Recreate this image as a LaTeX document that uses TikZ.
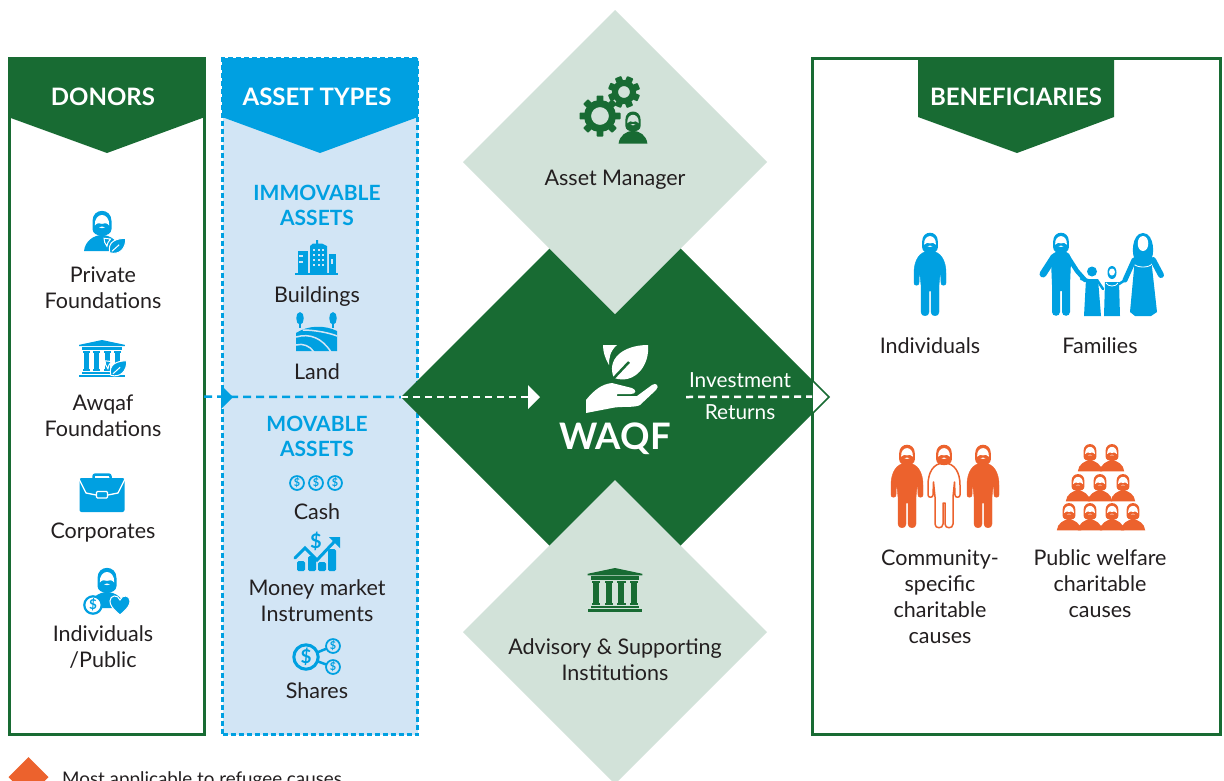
\documentclass[tikz,border=0pt]{standalone}
\usepackage{fontspec}
\setmainfont{Lato}
\usetikzlibrary{shapes.geometric}
\definecolor{dgreen}{HTML}{186B33}
\definecolor{lgreen}{HTML}{D2E2D9}
\definecolor{sky}{HTML}{00A0E1}
\definecolor{lsky}{HTML}{D2E5F5}
\definecolor{orng}{HTML}{EC622D}
\definecolor{ink}{HTML}{231F20}
\newcommand\Head[2]{%
  \fill[#1] (-9.5,-3) .. controls (-9.5,-16.5) and (9.5,-16.5) .. (9.5,-3) -- (9.5,5) .. controls (9.5,14) and (-9.5,14) .. (-9.5,5) -- cycle;
  \fill[#2] (-7.2,1.5) .. controls (-7.8,-12.5) and (7.8,-12.5) .. (7.2,1.5) .. controls (5,-1.5) and (2.5,-1) .. (0,-.2) .. controls (-2.5,-1) and (-5,-1.5) .. (-7.2,1.5) -- cycle;
  \fill[#2] (-3,3.4) .. controls (-1,2.2) and (1,2.2) .. (3,3.4) .. controls (1,4.4) and (-1,4.4) .. (-3,3.4) -- cycle;
}
% bust: head centre at origin
\newcommand\Bust[5]{\begin{scope}[shift={(#1,#2)},scale=#3]
  \fill[#4] (-18,27) .. controls (-17,17) and (-8,11) .. (0,11) .. controls (8,11) and (17,17) .. (18,27) -- cycle;
  \Head{#4}{#5}
\end{scope}}
% standing person: x, top y, stroke, fill, line width, face colour
\newcommand\Person[6]{\begin{scope}[shift={(#1,#2)}]
  \path[draw=#3,fill=#4,line width=#5,line join=round] (0,18) .. controls (-11,18) and (-16,28) .. (-16,40) -- (-16,50) .. controls (-16,53) and (-11,53) .. (-11,50) -- (-10.5,37) -- (-9,52) -- (-9,79) .. controls (-9,84) and (-1,84) .. (-1,79) -- (-1,58) -- (1,58) -- (1,79) .. controls (1,84) and (9,84) .. (9,79) -- (9,52) -- (10.5,37) -- (11,50) .. controls (11,53) and (16,53) .. (16,50) -- (16,40) .. controls (16,28) and (11,18) .. (0,18) -- cycle;
  \begin{scope}[shift={(0,10.5)},scale=.82]\Head{#3}{#6}\end{scope}
\end{scope}}
\newcommand\Coin[5]{%
  \pgfmathsetmacro\coinfs{#3*1.35}%
  \draw[#4,fill=#5,line width=#3*.22pt] (#1,#2) circle (#3*.87);
  \node[inner sep=0,text=#4,font=\fontsize{\coinfs}{\coinfs}\selectfont\bfseries] (coin-#1-#2) at (#1,#2) {\$};
}
% gear: x, y, ring radius, outer radius, ring width, colour, rotation
\newcommand\Gear[7]{\begin{scope}[shift={(#1,#2)}]
  \foreach \a in {0,45,...,315}{\begin{scope}[rotate=\a+#7]\fill[#6,rounded corners=.8pt] (#3,-3.4) rectangle (#4,3.4);\end{scope}}
  \draw[#6,line width=#5] (0,0) circle (#3);
\end{scope}}
\newcommand\Temple[4]{\begin{scope}[shift={(#1,#2)},scale=#3]
  \fill[#4] (-26,5.5) -- (0,0) -- (26,5.5) -- (26,7) -- (-26,7) -- cycle;
  \fill[#4] (-23,8) rectangle (23,11.5);
  \foreach \c in {-18,-6,6,18}{\fill[#4] (\c-2.8,13) rectangle (\c+2.8,34);
    \fill[#4] (\c-4,12.5) rectangle (\c+4,14.5);\fill[#4] (\c-4,33.5) rectangle (\c+4,35.5);}
  \fill[#4] (-23,36.5) rectangle (23,38.5);
  \fill[#4] (-26,39.5) rectangle (26,42);
\end{scope}}
\newcommand\Leaf[3]{\begin{scope}[shift={(#1,#2)},scale=#3]
  \fill[sky,draw=white,line width=1pt] (-10,10) .. controls (-14,-6) and (0,-10) .. (12,-10) .. controls (13,4) and (3,14) .. (-10,10) -- cycle;
  \draw[white,line width=1pt] (-7,8) -- (3,-1);
  \fill[sky,draw=white,line width=1pt] (-18,-10) -- (-9,-9) .. controls (-12,-6) and (-14,-2) .. (-14,1) .. controls (-17,-3) and (-18,-6) .. (-18,-10) -- cycle;
\end{scope}}
\tikzset{
  txt/.style={align=center,text=ink,inner sep=0,outer sep=0,text height=21pt,text depth=4pt,
    font=\fontsize{21.5}{26}\selectfont},
  whitetxt/.style={txt,text=white},
  heading/.style={txt,text=white,text height=23pt,font=\fontsize{24}{26}\selectfont\bfseries},
  subhead/.style={txt,text=sky,font=\fontsize{21}{25.5}\selectfont\bfseries},
  panel/.style={rectangle,inner sep=0,outer sep=0,minimum width=#1,minimum height=676},
  bigdiamond/.style={diamond,aspect=1,inner sep=0,outer sep=0,minimum width=#1,minimum height=#1},
  greenline/.style={draw=dgreen,line width=3pt},
  bluedash/.style={draw=sky,line width=3pt,dash pattern=on 5pt off 3pt},
  linkblue/.style={draw=sky,line width=2.5pt,dash pattern=on 8pt off 5pt},
  linkwhite/.style={draw=white,line width=2.5pt,dash pattern=on 7pt off 5pt},
}
\begin{document}
\begin{tikzpicture}[x=1pt,y=-1pt]
\useasboundingbox (0,0) rectangle (1224,780);
\clip (0,0) rectangle (1224,780);
\fill[white] (0,0) rectangle (1224,780);

% panels
\node[panel=195,greenline,fill=white] (donors) at (106.5,396.7) {};
\node[panel=195,bluedash,fill=lsky] (assets) at (320,396.7) {};
\fill[dgreen] (8,58) -- (205,58) -- (205,117) -- (107,153) -- (8,117) -- cycle;
\fill[sky] (222,58) -- (418,58) -- (418,117) -- (320,153) -- (222,117) -- cycle;

% diamonds
\node[bigdiamond=428,fill=dgreen] (waqf) at (615,397) {};
\node[panel=408,greenline] (benef) at (1016,396.7) {};
\fill[dgreen] (918,58) -- (1114,58) -- (1114,117) -- (1017,153) -- (918,117) -- cycle;
\node[bigdiamond=304,fill=lgreen] (manager) at (615,162) {};
\node[bigdiamond=304,fill=lgreen] (advisory) at (615,632) {};
\node[bigdiamond=40,fill=orng] (legend) at (28.5,777) {};

% headings
\node[heading] (h1) at (103,96) {DONORS};
\node[heading] (h2) at (317,96) {ASSET TYPES};
\node[heading] (h3) at (1016,96) {BENEFICIARIES};

% connectors
\coordinate (inarrow) at (528,397);
\coordinate (outstart) at (686,397);
\draw[linkblue] (donors.east) -- (waqf.west);
\fill[sky] (221,385) -- (233,397) -- (221,409) -- cycle;
\draw[linkwhite] (waqf.west) -- (inarrow);
\fill[white] (528,385) -- (540,397) -- (528,409) -- cycle;
\draw[linkwhite] (outstart) -- (benef.west);
\fill[white,draw=dgreen,line width=1.5pt] (813,381) -- (829,397) -- (813,413);

% donors column
\node[txt] (d1) at (103,300) {Private\\Foundations};
\node[txt] (d2) at (103,428) {Awqaf\\Foundations};
\node[txt] (d3) at (103,530) {Corporates};
\node[txt] (d4) at (103,659) {Individuals\\/Public};
% private foundations icon
\Bust{102}{224}{1}{sky}{white}
\Leaf{117}{245.5}{.72}
% awqaf icon
\Temple{102}{340}{.88}{sky}
\Leaf{118}{368}{.72}
% briefcase
\draw[sky,line width=2.5pt,rounded corners=2pt] (93.5,481) -- (93.5,474.5) -- (110.5,474.5) -- (110.5,481);
\fill[sky,rounded corners=2pt] (79.5,478) -- (124.5,478) -- (124.5,512) -- (79.5,512) -- cycle;
\draw[white,line width=1.3pt] (79,479) -- (86,493) -- (96,495) (108,495) -- (118,493) -- (125,479);
\draw[white,fill=sky,line width=1.3pt,rounded corners=1pt] (96.5,491.5) rectangle (107.5,498);
% individuals / public icon
\Bust{107}{581}{1}{sky}{white}
\Coin{93}{605}{10}{sky}{white}
\fill[sky,draw=white,line width=1pt] (120,615) .. controls (112,608) and (110,605) .. (110,601) .. controls (110,595) and (118,594) .. (120,600) .. controls (122,594) and (130,595) .. (130,601) .. controls (130,605) and (128,608) .. (120,615) -- cycle;

% assets column
\node[subhead] (a1) at (317,217) {IMMOVABLE\\ASSETS};
\node[txt] (a2) at (317,294) {Buildings};
\node[txt] (a3) at (317,371) {Land};
\node[subhead] (a4) at (317,448) {MOVABLE\\ASSETS};
\node[txt] (a5) at (317,511) {Cash};
\node[txt] (a6) at (317,613) {Money market\\Instruments};
\node[txt] (a7) at (317,690) {Shares};
% buildings
\fill[sky] (295,272.5) rectangle (338,274.5);
\fill[sky] (298,251) rectangle (308,273);
\fill[sky] (329,254) rectangle (336,273);
\fill[sky] (310,246) -- (313,243.5) -- (316,243.5) -- (316,240) -- (318,240) -- (318,243.5) -- (322,243.5) -- (327,246) -- (327,273) -- (310,273) -- cycle;
\foreach \wx in {314,318.5,323}{\foreach \wy in {250,255,260,265}{\fill[lsky] (\wx-1,\wy-1) rectangle (\wx+1,\wy+1);}}
\fill[lsky] (299,255) rectangle (303,257);\fill[lsky] (299,261) rectangle (303,263);\fill[lsky] (331,259) rectangle (333,264);
% land
\foreach \tx in {300,333}{\fill[sky] (\tx,312) .. controls (\tx+5,312) and (\tx+5,324) .. (\tx,325) .. controls (\tx-5,324) and (\tx-5,312) .. (\tx,312) -- cycle;\draw[sky,line width=1.5pt] (\tx,324) -- (\tx,328);}
\fill[sky] (296,333) .. controls (308,325) and (325,325) .. (337,331) -- (337,351) -- (296,351) -- cycle;
\draw[lsky,line width=1.5pt] (296,337) .. controls (310,333) and (322,338) .. (331,352);
\draw[lsky,line width=1.5pt] (296,345) .. controls (303,343) and (310,346) .. (314,352);
\draw[lsky,line width=1.5pt] (303,330) .. controls (315,330) and (330,333) .. (337,336);
% cash
\Coin{297}{483}{8}{sky}{lsky}
\Coin{316}{483}{8}{sky}{lsky}
\Coin{335}{483}{8}{sky}{lsky}
% money market
\foreach \bx/\bt in {297/561,308/556,318/562,328/549}{\fill[sky,rounded corners=1.5pt] (\bx,\bt) rectangle (\bx+8,571);}
\draw[lsky,line width=4pt] (294,556) -- (305,545) -- (317,557) -- (337,537);
\draw[sky,line width=3pt,line cap=round] (295,558) -- (305,548) -- (317,560) -- (335,541);
\fill[sky] (329,537) -- (340,537) -- (340,548) -- cycle;
\node[inner sep=0,text=sky,font=\fontsize{20}{20}\selectfont\bfseries] (chartd) at (316,541) {\$};
% shares
\draw[sky,line width=2.5pt] (306,657) -- (333,646);
\draw[sky,line width=2.5pt] (306,657) -- (333,667);
\Coin{306}{657}{14}{sky}{lsky}
\Coin{333}{646}{8}{sky}{lsky}
\Coin{333}{667}{8}{sky}{lsky}

% centre
\node[txt] (m1) at (615,177) {Asset Manager};
\Gear{600}{116}{12.5}{20.5}{7pt}{dgreen}{0}
\Gear{624}{92}{9}{16}{6pt}{dgreen}{22}
\Bust{633}{122}{.8}{dgreen}{lgreen}
\node[txt] (m2) at (615,672) {Advisory \& Supporting\\Institutions};
\Temple{615}{568}{1.05}{dgreen}
% WAQF icon
\fill[white] (614,378) .. controls (606,360) and (622,345) .. (648,345) .. controls (650,365) and (635,385) .. (614,378) -- cycle;
\draw[dgreen,line width=2.5pt] (612,380) -- (629,362);
\fill[white] (603,345) -- (617,345) .. controls (610,351) and (609,358) .. (609,365) .. controls (605,358) and (603,352) .. (603,345) -- cycle;
\fill[white] (586,413) -- (586,400) .. controls (594,390) and (602,384) .. (612,383) -- (632,388) .. controls (637,390) and (636,394) .. (631,394) -- (617,394) -- (617,396) -- (637,396) -- (652,385) .. controls (656,382) and (660,386) .. (656,390) -- (640,405) .. controls (635,408) and (620,406) .. (612,408) -- cycle;
\node[whitetxt,font=\fontsize{36.5}{37}\selectfont\bfseries,text height=27pt,text depth=0pt] (w) at (615,436) {WAQF};
\node[whitetxt,font=\fontsize{20.8}{24}\selectfont] (i1) at (740,379) {Investment};
\node[whitetxt,font=\fontsize{20.8}{24}\selectfont] (i2) at (740,411) {Returns};

% beneficiaries
\node[txt] (b1) at (930,345) {Individuals};
\node[txt] (b2) at (1100,345) {Families};
\node[txt] (b3) at (940,635) {Community-\\specific\\charitable\\causes};
\node[txt] (b4) at (1100,609) {Public welfare\\charitable\\causes};
\Person{930}{233}{sky}{sky}{.4pt}{white}
% father
\begin{scope}[shift={(1061,233)}]
\fill[sky] (0,18) .. controls (-8,18) and (-10,22) .. (-10,28) -- (-9,52) -- (-9,79) .. controls (-9,84) and (-1,84) .. (-1,79) -- (-1,58) -- (1,58) -- (1,79) .. controls (1,84) and (9,84) .. (9,79) -- (9,52) -- (10,28) .. controls (10,22) and (8,18) .. (0,18) -- cycle;
\draw[sky,line width=7pt,line cap=round] (-7,24) -- (-18,41);
\draw[sky,line width=4.5pt,line cap=round] (7,24) -- (16,38) -- (24,47);
\begin{scope}[shift={(0,10.5)},scale=.82]\Head{sky}{white}\end{scope}
\end{scope}
% boy
\fill[sky] (1092,271.5) circle (5);
\fill[sky] (1086,279) -- (1098,279) -- (1101,316) -- (1084,316) -- cycle;
\draw[sky,line width=2.5pt,line cap=round] (1088,280) -- (1081,279);
\draw[sky,line width=2.5pt,line cap=round] (1097,280) -- (1103,289);
% girl
\begin{scope}[shift={(1112,272)},scale=.5]\fill[sky] (0,-12) .. controls (-12,-12) and (-12,14) .. (0,14) .. controls (12,14) and (12,-12) .. (0,-12) -- cycle;\fill[white] (0,0) ellipse (6 and 7);\end{scope}
\fill[sky] (1105,282) -- (1119,282) -- (1120,316) -- (1104,316) -- cycle;
\draw[white,line width=.8pt] (1106,283) .. controls (1108,287) and (1116,287) .. (1118,283);
\draw[sky,line width=2.5pt,line cap=round] (1119,284) -- (1125,280);
% mother
\fill[sky] (1143,233) .. controls (1131,233) and (1131,258) .. (1136,260) -- (1150,260) .. controls (1155,258) and (1155,233) .. (1143,233) -- cycle;
\fill[white] (1143,236) .. controls (1136,236) and (1136,251) .. (1143,251) .. controls (1150,251) and (1150,236) .. (1143,236) -- cycle;
\fill[sky] (1135,258) -- (1151,258) -- (1157,312) -- (1151,316) -- (1135,316) -- (1130,312) -- cycle;
\draw[white,line width=.8pt] (1134,264) .. controls (1137,268) and (1149,268) .. (1152,264);
\draw[sky,line width=6pt,line cap=round] (1153,260) -- (1161,275);
\draw[sky,line width=5pt,line cap=round] (1134,260) -- (1125,280);
% community people
\Person{907}{445}{orng}{orng}{.4pt}{white}
\Person{944}{445}{orng}{white}{1.5pt}{white}
\Person{983}{445}{orng}{orng}{.4pt}{white}
% public welfare crowd
\foreach \px/\py in {1090/453,1112/453,1078/483,1100/483,1123/483,1069/512,1090/512,1112/512,1133/512}{\Bust{\px}{\py}{.68}{orng}{white}}

% legend
\node[text=ink,anchor=base west,inner sep=0,font=\fontsize{18.8}{22}\selectfont] (lg) at (62,785) {Most applicable to refugee causes};
\end{tikzpicture}
\end{document}
